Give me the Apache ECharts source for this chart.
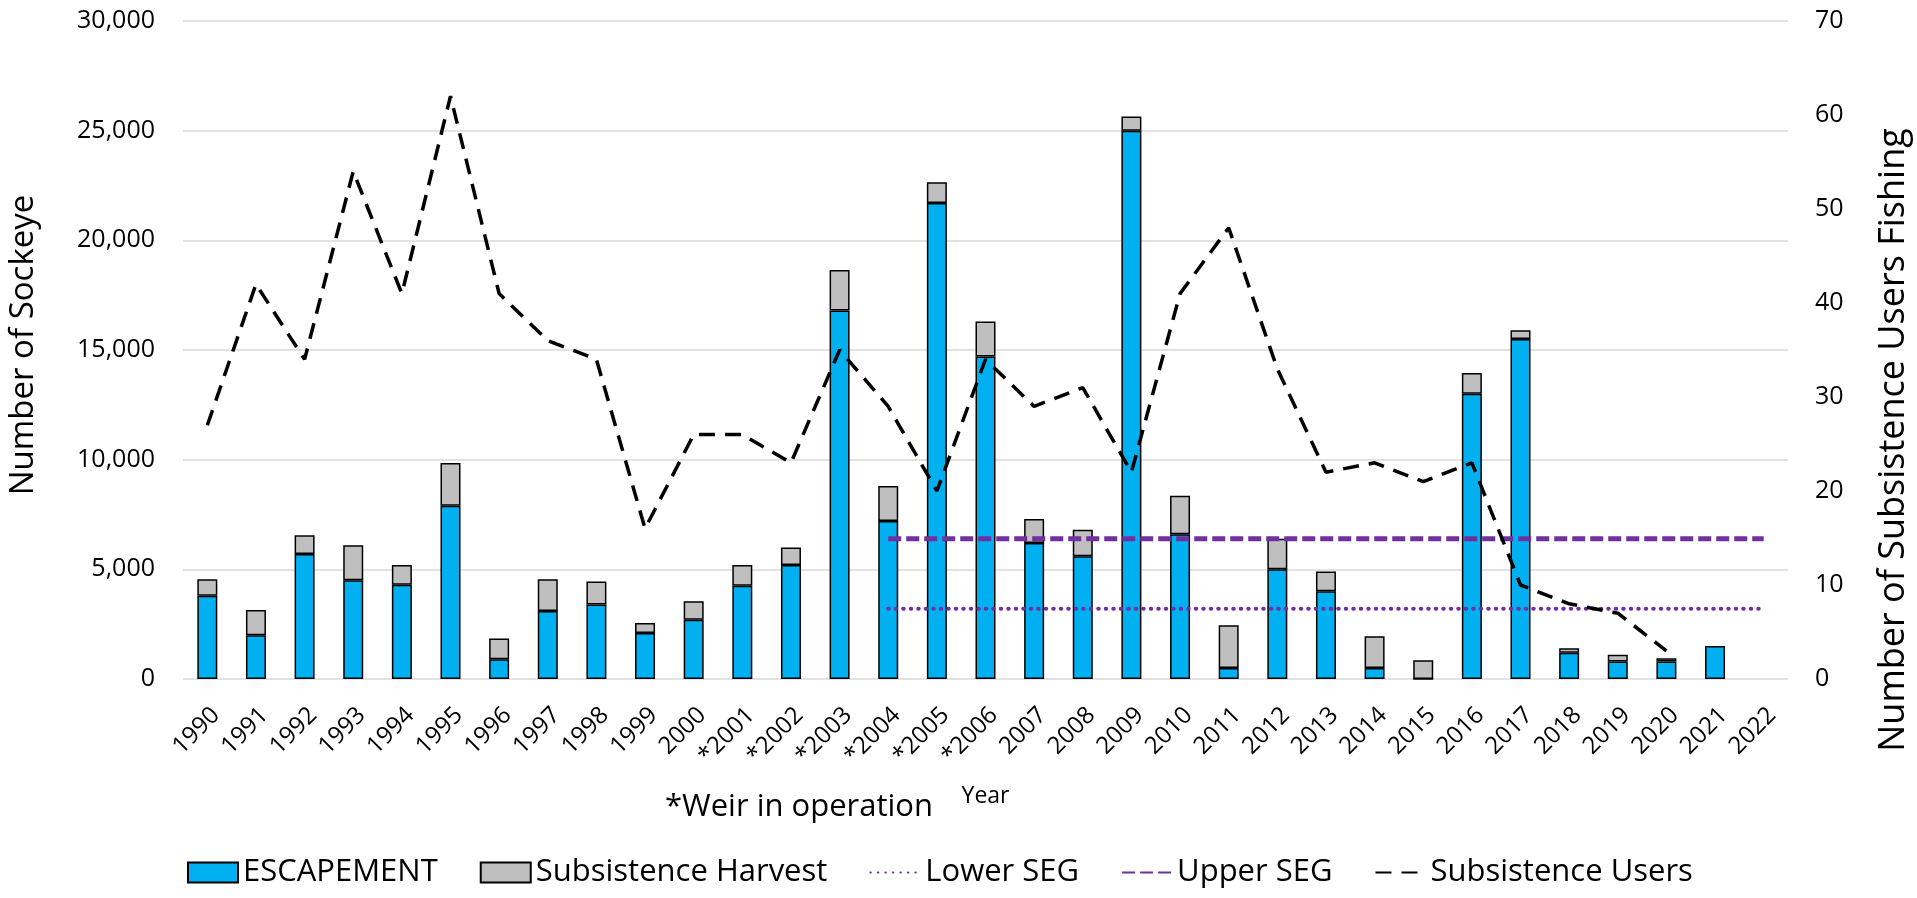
<!DOCTYPE html>
<html>
<head>
<meta charset="utf-8">
<title>Sockeye escapement and subsistence</title>
<script src="https://cdn.jsdelivr.net/npm/echarts@6/dist/echarts.min.js"></script>
<style>
  html, body { margin: 0; padding: 0; background: #fff; }
  #chart { width: 1917px; height: 898px; }
</style>
</head>
<body>
<div id="chart"></div>
<script>
// values
var years = ['1990', '1991', '1992', '1993', '1994', '1995', '1996', '1997', '1998', '1999', '2000',
  '*2001', '*2002', '*2003', '*2004', '*2005', '*2006', '2007', '2008', '2009', '2010', '2011',
  '2012', '2013', '2014', '2015', '2016', '2017', '2018', '2019', '2020', '2021', '2022'];

var escapement = [3800, 2000, 5700, 4500, 4300, 7900, 900, 3100, 3400, 2100, 2700,
  4250, 5200, 16800, 7200, 21700, 14700, 6200, 5600, 25000, 6600, 500,
  5000, 4000, 500, 0, 13000, 15500, 1200, 800, 800, 1500, null];

var harvest = [750, 1150, 850, 1600, 900, 1950, 950, 1450, 1050, 450, 850,
  950, 800, 1850, 1600, 950, 1600, 1100, 1200, 650, 1750, 1950,
  1400, 900, 1450, 850, 950, 400, 200, 300, 150, null, null];

var lowerSeg = [null, null, null, null, null, null, null, null, null, null, null,
  null, null, null, 3200, 3200, 3200, 3200, 3200, 3200, 3200, 3200,
  3200, 3200, 3200, 3200, 3200, 3200, 3200, 3200, 3200, 3200, 3200];

var upperSeg = [null, null, null, null, null, null, null, null, null, null, null,
  null, null, null, 6400, 6400, 6400, 6400, 6400, 6400, 6400, 6400,
  6400, 6400, 6400, 6400, 6400, 6400, 6400, 6400, 6400, 6400, 6400];

var users = [27, 42, 34, 54, 41, 62, 41, 36, 34, 16, 26,
  26, 23, 35, 29, 20, 34, 29, 31, 22, 41, 48,
  33, 22, 23, 21, 23, 10, 8, 7, 3, null, null];

var font = 'Open Sans';
var noSymbol = { color: 'rgba(0,0,0,0)', borderWidth: 0, opacity: 0 };
var myChart = echarts.init(document.getElementById('chart'));

option = {
  backgroundColor: '#fff',
  animation: false,
  textStyle: { fontFamily: font, color: '#000' },
  grid: { left: 183, right: 129, top: 21, bottom: 219, containLabel: false },
  legend: {
    left: 182,
    top: 852,
    itemWidth: 50,
    itemHeight: 20,
    itemGap: 42,
    textStyle: { fontFamily: font, fontSize: 31, color: '#000' },
    data: [
      { name: 'ESCAPEMENT', icon: 'rect' },
      { name: 'Subsistence Harvest', icon: 'rect' },
      { name: 'Lower SEG', itemStyle: noSymbol },
      { name: 'Upper SEG', itemStyle: noSymbol },
      { name: 'Subsistence Users', itemStyle: noSymbol }
    ]
  },
  graphic: [{
    type: 'text',
    left: 665,
    top: 792,
    style: { text: '*Weir in operation', fontFamily: font, fontSize: 31, fill: '#000' }
  }, {
    // left axis title
    type: 'text',
    x: 24, y: 345,
    rotation: Math.PI / 2,
    style: { text: 'Number of Sockeye', fontFamily: font, fontSize: 33, fill: '#000',
      align: 'center', verticalAlign: 'middle' }
  }, {
    // right axis title
    type: 'text',
    x: 1894, y: 440,
    rotation: Math.PI / 2,
    style: { text: 'Number of Subsistence Users Fishing', fontFamily: font, fontSize: 36, fill: '#000',
      align: 'center', verticalAlign: 'middle' }
  }],
  xAxis: {
    type: 'category',
    data: years,
    name: 'Year',
    nameLocation: 'middle',
    nameGap: 106,
    nameTextStyle: { fontFamily: font, fontSize: 23, color: '#000' },
    axisLine: { show: false },
    axisTick: { show: false },
    axisLabel: { interval: 0, rotate: 45, margin: 24, verticalAlign: 'top',
      fontFamily: font, fontSize: 24, color: '#000' }
  },
  yAxis: [{
    type: 'value',
    min: 0, max: 30000, interval: 5000,
    axisLine: { show: false },
    axisTick: { show: false },
    splitLine: { lineStyle: { color: '#D9D9D9', width: 1.5 } },
    axisLabel: {
      margin: 28, fontFamily: font, fontSize: 25, color: '#000',
      formatter: function (v) { return v.toLocaleString('en-US'); }
    }
  }, {
    type: 'value',
    min: 0, max: 70, interval: 10,
    axisLine: { show: false },
    axisTick: { show: false },
    splitLine: { show: false },
    axisLabel: { margin: 27, fontFamily: font, fontSize: 25, color: '#000' }
  }],
  series: [{
    name: 'ESCAPEMENT',
    type: 'bar',
    stack: 'fish',
    barWidth: 20,
    itemStyle: { color: '#00B0F0', borderColor: '#000', borderWidth: 1.5 },
    data: escapement
  }, {
    name: 'Subsistence Harvest',
    type: 'bar',
    stack: 'fish',
    barWidth: 20,
    itemStyle: { color: '#BFBFBF', borderColor: '#000', borderWidth: 1.5 },
    data: harvest
  }, {
    name: 'Lower SEG',
    type: 'line',
    symbol: 'none',
    color: '#7030A0',
    lineStyle: { color: '#7030A0', width: 4, type: [0.5, 7], cap: 'round' },
    data: lowerSeg
  }, {
    name: 'Upper SEG',
    type: 'line',
    symbol: 'none',
    color: '#7030A0',
    lineStyle: { color: '#7030A0', width: 5, type: [13, 5] },
    data: upperSeg
  }, {
    name: 'Subsistence Users',
    type: 'line',
    yAxisIndex: 1,
    symbol: 'none',
    color: '#000',
    z: 5,
    lineStyle: { color: '#000', width: 3.5, type: [16, 10] },
    data: users
  }]
};

myChart.setOption(option);
</script>
</body>
</html>
